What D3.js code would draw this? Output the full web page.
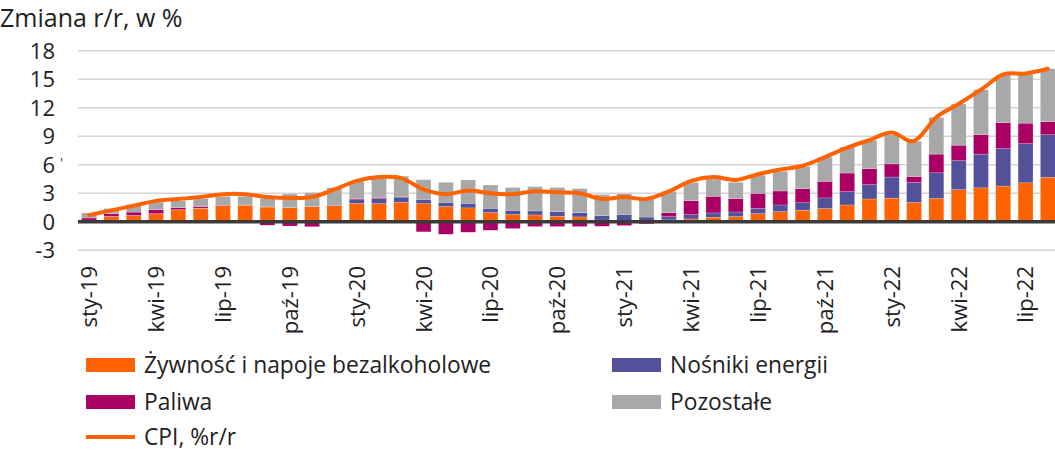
<!DOCTYPE html>
<html>
<head>
<meta charset="utf-8">
<script src="https://cdn.jsdelivr.net/npm/d3@7"></script>
<style>
  html, body { margin: 0; padding: 0; background: #fff; }
  svg { display: block; font-family: "Open Sans", sans-serif; }
</style>
</head>
<body>
<svg id="chart" width="1055" height="452"></svg>
<script>
// ---- data ----
const monthNames = ["sty","lut","mar","kwi","maj","cze","lip","sie","wrz","paź","lis","gru"];
const years = ["19","20","21","22"];
const months = [];
years.forEach(y => monthNames.forEach(m => months.push(m + "-" + y)));
months.length = 44; // sty-19 .. sie-22

const food = [
  0.10, 0.55, 0.65, 0.83, 1.25, 1.42, 1.68, 1.75, 1.55, 1.49, 1.60, 1.70,
  1.93, 1.91, 2.05, 1.91, 1.60, 1.46, 0.97, 0.76, 0.72, 0.58, 0.51, 0.18,
  0.12, 0.08, 0.20, 0.30, 0.48, 0.55, 0.86, 1.07, 1.21, 1.39, 1.77, 2.40,
  2.49, 2.03, 2.45, 3.38, 3.57, 3.76, 4.10, 4.68
];
const energy = [
  0.08, 0.02, 0.02, 0.02, 0.02, 0.02, 0.02, 0.02, 0.02, 0.02, 0.02, 0.05,
  0.38, 0.53, 0.55, 0.45, 0.45, 0.49, 0.45, 0.45, 0.42, 0.49, 0.46, 0.47,
  0.66, 0.42, 0.34, 0.45, 0.45, 0.48, 0.53, 0.70, 0.80, 1.12, 1.40, 1.51,
  2.22, 2.10, 2.70, 3.05, 3.55, 3.94, 4.12, 4.48
];
const fuel = [
  0.22, 0.28, 0.35, 0.42, 0.21, 0.17, 0.05, -0.05, -0.36, -0.45, -0.52, -0.05,
  0.10, 0.12, 0.02, -1.06, -1.31, -1.10, -0.89, -0.71, -0.50, -0.50, -0.50, -0.47,
  -0.40, -0.22, 0.42, 1.47, 1.75, 1.41, 1.61, 1.47, 1.48, 1.75, 1.96, 1.68,
  1.38, 0.64, 1.97, 1.63, 2.05, 2.73, 2.16, 1.38
];
const other = [
  0.53, 0.55, 0.80, 0.78, 0.75, 0.82, 0.93, 0.91, 0.87, 1.42, 1.45, 1.84,
  1.85, 1.98, 2.18, 2.07, 2.10, 2.45, 2.45, 2.39, 2.56, 2.53, 2.52, 2.22,
  2.18, 1.88, 2.24, 1.93, 1.82, 1.71, 1.89, 2.07, 2.34, 2.55, 2.73, 2.98,
  3.06, 3.70, 3.87, 4.34, 4.73, 5.02, 5.08, 5.56
];
const cpi = [
  0.7, 1.2, 1.7, 2.2, 2.4, 2.6, 2.9, 2.9, 2.6, 2.5, 2.6, 3.4,
  4.3, 4.7, 4.6, 3.4, 2.9, 3.3, 3.0, 2.9, 3.2, 3.1, 3.0, 2.4,
  2.6, 2.4, 3.2, 4.3, 4.7, 4.4, 5.0, 5.5, 5.9, 6.8, 7.8, 8.6,
  9.4, 8.5, 11.0, 12.4, 13.9, 15.5, 15.6, 16.1
];
const yTicks = [-3, 0, 3, 6, 9, 12, 15, 18];
const seriesNames = ["Żywność i napoje bezalkoholowe", "Nośniki energii", "Paliwa", "Pozostałe"];
const cpiName = "CPI, %r/r";
const title = "Zmiana r/r, w %";

// ---- styles ----
const colors = ["#FF6200", "#525199", "#AA0066", "#A8A8A8"];
const lineColor = "#FF6200";

const svg = d3.select("#chart");
const x = d3.scaleBand().domain(months).range([78, 1059]).paddingInner(0.33).paddingOuter(0.165);
const y = d3.scaleLinear().domain([-3, 18]).range([250.3, 50.7]);

// gridlines
svg.append("g").selectAll("line").data(yTicks.filter(d => d !== 0)).join("line")
  .attr("x1", 78).attr("x2", 1059)
  .attr("y1", d => y(d)).attr("y2", d => y(d))
  .attr("stroke", "#D4D4D4").attr("stroke-width", 1.5);

// y labels
svg.append("g").selectAll("text").data(yTicks).join("text")
  .attr("x", 55).attr("y", d => y(d)).attr("dy", "0.36em")
  .attr("text-anchor", "end").attr("font-size", 22).attr("fill", "#222")
  .text(d => d);

// stacked bars with diverging offset
const rows = months.map((m, i) => ({ m, s0: food[i], s1: energy[i], s2: fuel[i], s3: other[i] }));
const stack = d3.stack().keys(["s0","s1","s2","s3"]).offset(d3.stackOffsetDiverging);
const stacked = stack(rows);
svg.append("g").selectAll("g").data(stacked).join("g")
  .attr("fill", (d, i) => colors[i])
  .selectAll("rect").data(d => d).join("rect")
  .attr("x", d => x(d.data.m))
  .attr("width", x.bandwidth())
  .attr("y", d => y(Math.max(d[0], d[1])))
  .attr("height", d => Math.abs(y(d[0]) - y(d[1])))
  .attr("stroke", "#fff").attr("stroke-width", 0.4).attr("stroke-opacity", 0.5);

// zero line
svg.append("line").attr("x1", 78).attr("x2", 1059)
  .attr("y1", y(0)).attr("y2", y(0))
  .attr("stroke", "#3A3A3A").attr("stroke-width", 3.5);

// CPI line
const line = d3.line()
  .x((d, i) => x(months[i]) + x.bandwidth() / 2)
  .y(d => y(d))
  .curve(d3.curveCardinal.tension(0));
svg.append("path").datum(cpi).attr("d", line)
  .attr("fill", "none").attr("stroke", lineColor).attr("stroke-width", 4)
  .attr("stroke-linejoin", "round").attr("stroke-linecap", "round");

// x labels every 3 months
svg.append("g").selectAll("text").data(months.filter((d, i) => i % 3 === 0)).join("text")
  .attr("transform", d => `translate(${x(d) + x.bandwidth() / 2},266) rotate(-90)`)
  .attr("dy", "0.36em").attr("text-anchor", "end")
  .attr("font-size", 22).attr("fill", "#222")
  .text(d => d);

// title
svg.append("text").attr("x", 0).attr("y", 27).attr("font-size", 25).attr("fill", "#222").text(title);
svg.append("text").attr("x", 60).attr("y", 168).attr("font-size", 14).attr("fill", "#444").text("'");

// legend
const legendItems = [
  { name: seriesNames[0], color: colors[0], x: 86, y: 365 },
  { name: seriesNames[1], color: colors[1], x: 612, y: 365 },
  { name: seriesNames[2], color: colors[2], x: 86, y: 402 },
  { name: seriesNames[3], color: colors[3], x: 612, y: 402 }
];
const lg = svg.append("g");
legendItems.forEach(it => {
  lg.append("rect").attr("x", it.x).attr("y", it.y - 7).attr("width", 49).attr("height", 14).attr("fill", it.color);
  lg.append("text").attr("x", it.x + 58).attr("y", it.y).attr("dy", "0.36em")
    .attr("font-size", 22.8).attr("fill", "#222").text(it.name);
});
lg.append("line").attr("x1", 86).attr("x2", 135).attr("y1", 437).attr("y2", 437)
  .attr("stroke", lineColor).attr("stroke-width", 4);
lg.append("text").attr("x", 144).attr("y", 437).attr("dy", "0.36em")
  .attr("font-size", 22.8).attr("fill", "#222").text(cpiName);
</script>
</body>
</html>
